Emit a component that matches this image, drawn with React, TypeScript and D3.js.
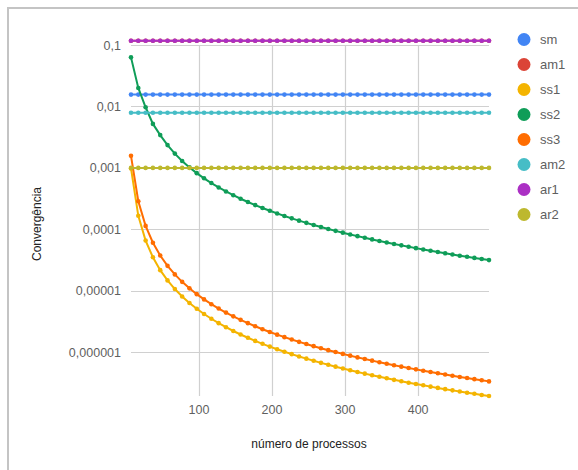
import { useEffect, useRef } from "react";
import * as d3 from "d3";

// number of processes (x)
const processos = [
  7, 17, 27, 37, 47, 57, 67, 77, 87, 97, 107, 117, 127, 137, 147, 157, 167,
  177, 187, 197, 207, 217, 227, 237, 247, 257, 267, 277, 287, 297, 307, 317,
  327, 337, 347, 357, 367, 377, 387, 397, 407, 417, 427, 437, 447, 457, 467,
  477, 487, 497,
];

const sm = [
  0.0156, 0.0156, 0.0156, 0.0156, 0.0156, 0.0156, 0.0156, 0.0156, 0.0156, 0.0156,
  0.0156, 0.0156, 0.0156, 0.0156, 0.0156, 0.0156, 0.0156, 0.0156, 0.0156, 0.0156,
  0.0156, 0.0156, 0.0156, 0.0156, 0.0156, 0.0156, 0.0156, 0.0156, 0.0156, 0.0156,
  0.0156, 0.0156, 0.0156, 0.0156, 0.0156, 0.0156, 0.0156, 0.0156, 0.0156, 0.0156,
  0.0156, 0.0156, 0.0156, 0.0156, 0.0156, 0.0156, 0.0156, 0.0156, 0.0156, 0.0156,
];

const am1 = [
  0.117, 0.117, 0.117, 0.117, 0.117, 0.117, 0.117, 0.117, 0.117, 0.117,
  0.117, 0.117, 0.117, 0.117, 0.117, 0.117, 0.117, 0.117, 0.117, 0.117,
  0.117, 0.117, 0.117, 0.117, 0.117, 0.117, 0.117, 0.117, 0.117, 0.117,
  0.117, 0.117, 0.117, 0.117, 0.117, 0.117, 0.117, 0.117, 0.117, 0.117,
  0.117, 0.117, 0.117, 0.117, 0.117, 0.117, 0.117, 0.117, 0.117, 0.117,
];

const ss1 = [
  9.8e-4, 1.661e-4, 6.58e-5, 3.51e-5, 2.17e-5, 1.477e-5, 1.069e-5, 8.1e-6, 6.34e-6, 5.1e-6,
  4.19e-6, 3.51e-6, 2.98e-6, 2.56e-6, 2.22e-6, 1.947e-6, 1.721e-6, 1.532e-6, 1.373e-6, 1.237e-6,
  1.12e-6, 1.019e-6, 9.32e-7, 8.55e-7, 7.87e-7, 7.27e-7, 6.73e-7, 6.26e-7, 5.83e-7, 5.44e-7,
  5.09e-7, 4.78e-7, 4.49e-7, 4.23e-7, 3.99e-7, 3.77e-7, 3.56e-7, 3.38e-7, 3.2e-7, 3.05e-7,
  2.9e-7, 2.76e-7, 2.63e-7, 2.51e-7, 2.4e-7, 2.3e-7, 2.2e-7, 2.11e-7, 2.02e-7, 1.943e-7,
];

const ss2 = [
  0.0629, 0.02, 9.7e-3, 5.2e-3, 3.42e-3, 2.35e-3, 1.709e-3, 1.299e-3, 1.02e-3, 8.22e-4,
  6.77e-4, 5.67e-4, 4.81e-4, 4.14e-4, 3.6e-4, 3.15e-4, 2.79e-4, 2.48e-4, 2.23e-4, 2.01e-4,
  1.817e-4, 1.654e-4, 1.512e-4, 1.387e-4, 1.277e-4, 1.18e-4, 1.093e-4, 1.016e-4, 9.46e-5, 8.84e-5,
  8.27e-5, 7.76e-5, 7.29e-5, 6.86e-5, 6.47e-5, 6.12e-5, 5.79e-5, 5.49e-5, 5.21e-5, 4.95e-5,
  4.71e-5, 4.48e-5, 4.28e-5, 4.08e-5, 3.9e-5, 3.73e-5, 3.58e-5, 3.43e-5, 3.29e-5, 3.16e-5,
];

const ss3 = [
  1.57e-3, 2.87e-4, 1.139e-4, 6.06e-5, 3.76e-5, 2.55e-5, 1.849e-5, 1.4e-5, 1.097e-5, 8.82e-6,
  7.25e-6, 6.06e-6, 5.15e-6, 4.42e-6, 3.84e-6, 3.37e-6, 2.98e-6, 2.65e-6, 2.37e-6, 2.14e-6,
  1.937e-6, 1.763e-6, 1.611e-6, 1.478e-6, 1.36e-6, 1.257e-6, 1.164e-6, 1.082e-6, 1.008e-6, 9.41e-7,
  8.81e-7, 8.26e-7, 7.76e-7, 7.31e-7, 6.89e-7, 6.51e-7, 6.16e-7, 5.84e-7, 5.54e-7, 5.27e-7,
  5.01e-7, 4.77e-7, 4.55e-7, 4.35e-7, 4.15e-7, 3.97e-7, 3.81e-7, 3.65e-7, 3.5e-7, 3.36e-7,
];

const am2 = [
  0.0079, 0.0079, 0.0079, 0.0079, 0.0079, 0.0079, 0.0079, 0.0079, 0.0079, 0.0079,
  0.0079, 0.0079, 0.0079, 0.0079, 0.0079, 0.0079, 0.0079, 0.0079, 0.0079, 0.0079,
  0.0079, 0.0079, 0.0079, 0.0079, 0.0079, 0.0079, 0.0079, 0.0079, 0.0079, 0.0079,
  0.0079, 0.0079, 0.0079, 0.0079, 0.0079, 0.0079, 0.0079, 0.0079, 0.0079, 0.0079,
  0.0079, 0.0079, 0.0079, 0.0079, 0.0079, 0.0079, 0.0079, 0.0079, 0.0079, 0.0079,
];

const ar1 = [
  0.117, 0.117, 0.117, 0.117, 0.117, 0.117, 0.117, 0.117, 0.117, 0.117,
  0.117, 0.117, 0.117, 0.117, 0.117, 0.117, 0.117, 0.117, 0.117, 0.117,
  0.117, 0.117, 0.117, 0.117, 0.117, 0.117, 0.117, 0.117, 0.117, 0.117,
  0.117, 0.117, 0.117, 0.117, 0.117, 0.117, 0.117, 0.117, 0.117, 0.117,
  0.117, 0.117, 0.117, 0.117, 0.117, 0.117, 0.117, 0.117, 0.117, 0.117,
];

const ar2 = [
  0.001, 0.001, 0.001, 0.001, 0.001, 0.001, 0.001, 0.001, 0.001, 0.001,
  0.001, 0.001, 0.001, 0.001, 0.001, 0.001, 0.001, 0.001, 0.001, 0.001,
  0.001, 0.001, 0.001, 0.001, 0.001, 0.001, 0.001, 0.001, 0.001, 0.001,
  0.001, 0.001, 0.001, 0.001, 0.001, 0.001, 0.001, 0.001, 0.001, 0.001,
  0.001, 0.001, 0.001, 0.001, 0.001, 0.001, 0.001, 0.001, 0.001, 0.001,
];

const seriesNames = ["sm", "am1", "ss1", "ss2", "ss3", "am2", "ar1", "ar2"];
const seriesValues = [sm, am1, ss1, ss2, ss3, am2, ar1, ar2];
const colors = [
  "#4285f4",
  "#db4437",
  "#f4b400",
  "#0f9d58",
  "#ff6d01",
  "#46bdc6",
  "#ab30c4",
  "#bdb82e",
];

const yTicks = [0.1, 0.01, 0.001, 0.0001, 0.00001, 0.000001];
const yTickLabels = ["0,1", "0,01", "0,001", "0,0001", "0,00001", "0,000001"];
const xTicks = [100, 200, 300, 400];

const W = 578;
const H = 470;
const FONT = '"Liberation Sans", Arial, sans-serif';

const App = () => {
  const ref = useRef<SVGSVGElement>(null);

  useEffect(() => {
    if (!ref.current) return;
    const svg = d3.select(ref.current);
    svg.selectAll("*").remove();

    const left = 131;
    const right = 489;
    const top = 45;
    const bottom = 396;

    const x = d3
      .scaleLinear()
      .domain(d3.extent(processos) as [number, number])
      .range([left, right]);

    const yMin = d3.min(seriesValues, (s) => d3.min(s)) as number;
    const y = d3.scaleLog().domain([yMin, 0.1]).range([bottom, top]);

    // frame
    svg
      .append("rect")
      .attr("x", 8)
      .attr("y", 8)
      .attr("width", 700)
      .attr("height", 600)
      .attr("fill", "#fff")
      .attr("stroke", "#c4c4c4")
      .attr("stroke-width", 2);

    // grid
    svg
      .append("g")
      .selectAll("line")
      .data(yTicks)
      .enter()
      .append("line")
      .attr("x1", left)
      .attr("x2", right)
      .attr("y1", (d) => Math.round(y(d)) + 0.5)
      .attr("y2", (d) => Math.round(y(d)) + 0.5)
      .attr("stroke", "#d0d0d0")
      .attr("stroke-width", 1.2);

    svg
      .append("g")
      .selectAll("line")
      .data(xTicks)
      .enter()
      .append("line")
      .attr("x1", (d) => Math.round(x(d)) + 0.5)
      .attr("x2", (d) => Math.round(x(d)) + 0.5)
      .attr("y1", top)
      .attr("y2", bottom)
      .attr("stroke", "#d0d0d0")
      .attr("stroke-width", 1.2);

    // tick labels
    svg
      .append("g")
      .selectAll("text")
      .data(yTicks)
      .enter()
      .append("text")
      .attr("x", 121)
      .attr("y", (d) => y(d) + 4.5)
      .attr("text-anchor", "end")
      .style("font-family", FONT)
      .style("font-size", "12.5px")
      .style("fill", "#5f5f5f")
      .text((d, i) => yTickLabels[i]);

    svg
      .append("g")
      .selectAll("text")
      .data(xTicks)
      .enter()
      .append("text")
      .attr("x", (d) => x(d))
      .attr("y", 414)
      .attr("text-anchor", "middle")
      .style("font-family", FONT)
      .style("font-size", "12.5px")
      .style("fill", "#5f5f5f")
      .text((d) => String(d));

    // axis titles
    svg
      .append("text")
      .attr("x", 309)
      .attr("y", 448)
      .attr("text-anchor", "middle")
      .style("font-family", FONT)
      .style("font-size", "12px")
      .style("fill", "#222")
      .text("número de processos");

    svg
      .append("text")
      .attr("transform", "translate(41,224) rotate(-90)")
      .attr("text-anchor", "middle")
      .style("font-family", FONT)
      .style("font-size", "12px")
      .style("fill", "#222")
      .text("Convergência");

    // series
    const line = d3
      .line<number>()
      .x((d, i) => x(processos[i]))
      .y((d) => y(d));

    seriesValues.forEach((vals, si) => {
      const g = svg.append("g");
      g.append("path")
        .attr("d", line(vals))
        .attr("fill", "none")
        .attr("stroke", colors[si])
        .attr("stroke-width", 2);
      g.selectAll("circle")
        .data(vals)
        .enter()
        .append("circle")
        .attr("cx", (d, i) => x(processos[i]))
        .attr("cy", (d) => y(d))
        .attr("r", 2.3)
        .attr("fill", colors[si]);
    });

    // legend
    const legend = svg
      .append("g")
      .selectAll("g")
      .data(seriesNames)
      .enter()
      .append("g")
      .attr("transform", (d, i) => `translate(524, ${39.5 + i * 25})`);

    legend
      .append("circle")
      .attr("r", 6.5)
      .attr("fill", (d, i) => colors[i]);

    legend
      .append("text")
      .attr("x", 16)
      .attr("y", 4.5)
      .style("font-family", FONT)
      .style("font-size", "13px")
      .style("fill", "#5f5f5f")
      .text((d) => d);
  }, []);

  return (
    <svg
      ref={ref}
      width={W}
      height={H}
      style={{ position: "absolute", left: 0, top: 0, display: "block" }}
    />
  );
};

export default App;
